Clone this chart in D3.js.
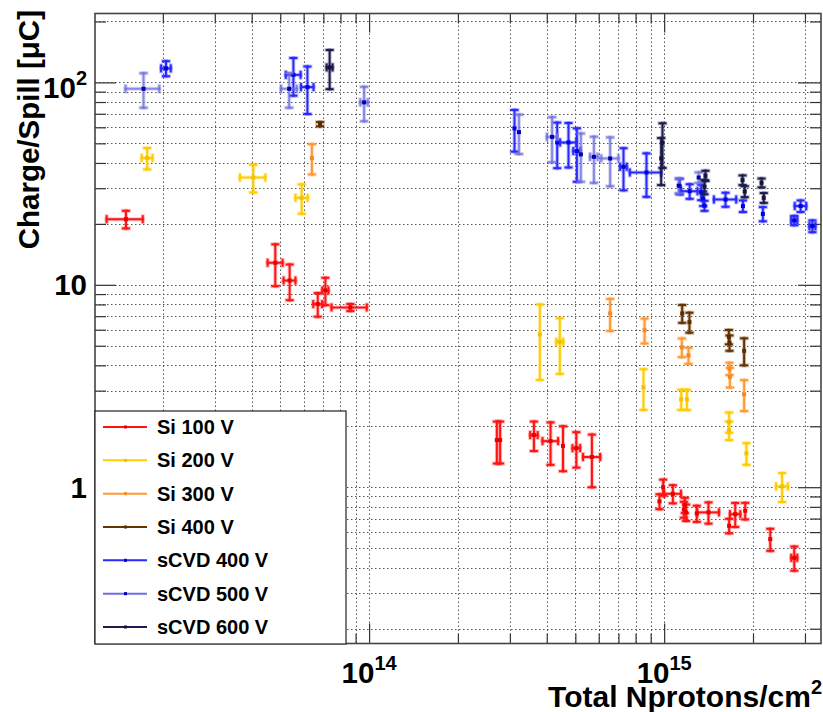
<!DOCTYPE html>
<html>
<head>
<meta charset="utf-8">
<script src="https://cdn.jsdelivr.net/npm/d3@7/dist/d3.min.js"></script>
<style>
  html, body { margin: 0; padding: 0; background: #fff; }
  svg { display: block; }
  text { font-family: "Liberation Sans", Arial, Helvetica, sans-serif; font-weight: bold; fill: #000; }
</style>
</head>
<body>
<svg id="chart" width="823" height="712"></svg>
<script>
// ---- data: fluence (protons/cm^2) vs collected charge per spill (uC) ----
const si100X  = [1.50e13, 4.81e13, 5.38e13, 6.70e13, 7.11e13, 8.64e13, 2.71e14, 2.78e14, 3.62e14, 4.12e14, 4.54e14, 5.04e14, 5.69e14, 9.64e14, 9.92e14, 1.07e15, 1.166e15, 1.175e15, 1.187e15, 1.29e15, 1.413e15, 1.66e15, 1.741e15, 1.882e15, 2.288e15, 2.76e15];
const si100EX = [0.21e13, 0.28e13, 0.25e13, 0.23e13, 0.17e13, 1.18e13, 0, 0, 0.105e14, 0.25e14, 0, 0.15e14, 0.38e14, 0, 0, 0.07e15, 0, 0, 0, 0, 0.12e15, 0, 0.07e15, 0, 0, 0.065e15];
const si100Y  = [21.1, 12.85, 10.5, 8.03, 9.38, 7.73, 1.71, 1.71, 1.81, 1.69, 1.60, 1.56, 1.41, 0.851, 1.0, 0.928, 0.777, 0.816, 0.751, 0.742, 0.751, 0.645, 0.736, 0.765, 0.554, 0.448];
const si100EY = [2.1, 3.0, 2.1, 1.07, 1.45, 0.31, 0.40, 0.40, 0.30, 0.40, 0.40, 0.31, 0.41, 0.072, 0.09, 0.095, 0.07, 0.07, 0.07, 0.068, 0.09, 0.053, 0.10, 0.072, 0.069, 0.061];

const si200X  = [1.77e13, 4.05e13, 5.91e13, 3.79e14, 4.43e14, 8.51e14, 1.142e15, 1.194e15, 1.66e15, 1.66e15, 1.90e15, 2.51e15];
const si200EX = [0.074e13, 0.40e13, 0.28e13, 0, 0.12e14, 0, 0, 0, 0, 0, 0, 0.115e15];
const si200Y  = [42.3, 33.9, 26.9, 5.69, 5.23, 3.12, 2.72, 2.72, 2.10, 1.91, 1.47, 1.01];
const si200EY = [5.1, 5.3, 4.45, 2.3, 1.6, 0.71, 0.31, 0.31, 0.24, 0.2, 0.18, 0.165];

const si300X  = [6.40e13, 6.56e14, 8.58e14, 1.148e15, 1.209e15, 1.665e15, 1.67e15, 1.866e15];
const si300EX = [0, 0, 0, 0, 0, 0, 0, 0];
const si300Y  = [42.3, 7.22, 5.97, 4.91, 4.48, 3.85, 3.50, 2.88];
const si300EY = [7.2, 1.3, 0.84, 0.52, 0.41, 0.27, 0.39, 0.5];

const si400X  = [6.82e13, 1.151e15, 1.218e15, 1.657e15, 1.665e15, 1.866e15];
const si400EX = [0, 0, 0, 0, 0, 0];
const si400Y  = [62.2, 7.22, 6.54, 5.53, 5.17, 4.72];
const si400EY = [1.5, 0.73, 0.74, 0.45, 0.45, 0.72];

const cvd400X  = [2.05e13, 5.54e13, 6.18e13, 3.11e14, 4.34e14, 4.74e14, 5.06e14, 7.28e14, 8.71e14, 1.129e15, 1.22e15, 1.335e15, 1.356e15, 1.37e15, 1.614e15, 1.849e15, 2.16e15, 2.76e15, 2.90e15, 3.18e15];
const cvd400EX = [0.077e13, 0.32e13, 0.30e13, 0, 0, 0.30e14, 0.14e14, 0.19e14, 1.06e14, 0, 0.077e15, 0, 0, 0, 0.14e15, 0, 0, 0.065e15, 0.13e15, 0.075e15];
const cvd400Y  = [117.3, 109, 94.8, 59.3, 50.5, 50.5, 45.8, 38.3, 35.9, 30.7, 29.0, 28.7, 26.7, 24.6, 26.4, 24.5, 22.4, 20.8, 24.5, 19.5];
const cvd400EY = [10, 23, 25, 13.8, 12.8, 12.5, 13.5, 9, 8.7, 2.7, 2.4, 2.5, 2.2, 1.4, 2.1, 1.6, 1.8, 1.1, 1.6, 1.3];

const cvd500X  = [1.72e13, 5.36e13, 9.62e13, 3.22e14, 4.17e14, 5.22e14, 5.78e14, 6.56e14, 1.12e15, 1.309e15];
const cvd500EX = [0.225e13, 0.33e13, 0.28e13, 0, 0.165e14, 0, 0.17e14, 0.44e14, 0, 0];
const cvd500Y  = [93, 93, 79.7, 56.8, 53.8, 44.1, 42.9, 42.1, 30.9, 33.9];
const cvd500EY = [18, 18, 15.4, 12.5, 13.5, 11.8, 11, 11.4, 2.6, 2];

const cvd600X  = [7.35e13, 9.87e14, 9.77e14, 1.38e15, 1.37e15, 1.843e15, 1.875e15, 2.138e15, 2.175e15];
const cvd600EX = [0.17e13, 0, 0, 0, 0, 0, 0, 0, 0];
const cvd600Y  = [118.6, 50.3, 42.1, 34.6, 30.5, 32.9, 28.9, 31.9, 26.9];
const cvd600EY = [26, 12.5, 11, 2, 2.5, 1.8, 1.8, 1.6, 1.5];

const seriesNames = ["Si 100 V", "Si 200 V", "Si 300 V", "Si 400 V", "sCVD 400 V", "sCVD 500 V", "sCVD 600 V"];

// axis ranges and labelled decades
const xDomain = [1.178e13, 3.40e15];
const yDomain = [0.169, 219];
const xMajorTicks = [1e14, 1e15];
const xMajorExponents = ["14", "15"];
const yMajorTicks = [1, 10, 100];
const yMajorBase = ["1", "10", "10"];
const yMajorExponents = ["", "", "2"];
const xTitle = "Total Nprotons/cm";
const xTitleSup = "2";
const yTitle = "Charge/Spill [\u03BCC]";

// ---- styling ----
const lineColors   = ["#ff1414", "#ffcc00", "#ff9933", "#663300", "#2a2aff", "#6f6fe0", "#1c1c50"];
const markerColors = ["#e60000", "#f2c200", "#f28a2a", "#5a2d00", "#0000e0", "#0000b0", "#14143c"];
const tickFont = 29.5, supFont = 20, titleFont = 29.5;

const series = seriesNames.map((name, i) => {
  const xs = [si100X, si200X, si300X, si400X, cvd400X, cvd500X, cvd600X][i];
  const exs = [si100EX, si200EX, si300EX, si400EX, cvd400EX, cvd500EX, cvd600EX][i];
  const ys = [si100Y, si200Y, si300Y, si400Y, cvd400Y, cvd500Y, cvd600Y][i];
  const eys = [si100EY, si200EY, si300EY, si400EY, cvd400EY, cvd500EY, cvd600EY][i];
  return { name, line: lineColors[i], marker: markerColors[i],
           points: xs.map((x, k) => ({ x, ex: exs[k], y: ys[k], ey: eys[k] })) };
});

const frame = { left: 95, right: 821, top: 13.5, bottom: 643.5 };
const svg = d3.select("#chart");
svg.append("rect").attr("width", 823).attr("height", 712).attr("fill", "#fff");

const x = d3.scaleLog().domain(xDomain).range([frame.left, frame.right]);
const y = d3.scaleLog().domain(yDomain).range([frame.bottom, frame.top]);

function decadeTicks(domain) {
  const out = [];
  const lo = Math.floor(Math.log10(domain[0])), hi = Math.ceil(Math.log10(domain[1]));
  for (let e = lo; e <= hi; e++)
    for (let m = 1; m <= 9; m++) {
      const v = m * Math.pow(10, e);
      if (v >= domain[0] && v <= domain[1]) out.push(v);
    }
  return out;
}
const xAll = decadeTicks(xDomain);
const yAll = decadeTicks(yDomain);
const isMajor = v => Math.abs(Math.log10(v) - Math.round(Math.log10(v))) < 1e-9;

// ---- dotted grid ----
const grid = svg.append("g").attr("stroke", "#555").attr("stroke-width", 1).attr("stroke-dasharray", "1.5,2.5");
grid.selectAll("line.gx").data(xAll).join("line")
  .attr("x1", d => Math.round(x(d)) + 0.5).attr("x2", d => Math.round(x(d)) + 0.5)
  .attr("y1", frame.top).attr("y2", frame.bottom);
grid.selectAll("line.gy").data(yAll).join("line")
  .attr("y1", d => Math.round(y(d)) + 0.5).attr("y2", d => Math.round(y(d)) + 0.5)
  .attr("x1", frame.left).attr("x2", frame.right);

// ---- inward ticks on all four sides ----
function tickAxis(axisFn, scale, values, size, transform) {
  const g = svg.append("g").attr("transform", transform)
    .call(axisFn(scale).tickValues(values).tickSize(size).tickFormat(""));
  g.select(".domain").remove();
  g.selectAll(".tick line").attr("stroke", "#333").attr("stroke-width", 1.2);
}
const xMinor = xAll.filter(v => !isMajor(v)), xMaj = xAll.filter(isMajor);
const yMinor = yAll.filter(v => !isMajor(v)), yMaj = yAll.filter(isMajor);
tickAxis(d3.axisRight, y, yMinor, 11, `translate(${frame.left},0)`);
tickAxis(d3.axisRight, y, yMaj, 21, `translate(${frame.left},0)`);
tickAxis(d3.axisLeft, y, yMinor, 11, `translate(${frame.right},0)`);
tickAxis(d3.axisLeft, y, yMaj, 23, `translate(${frame.right},0)`);
tickAxis(d3.axisBottom, x, xMinor, 10, `translate(0,${frame.top})`);
tickAxis(d3.axisBottom, x, xMaj, 19, `translate(0,${frame.top})`);
tickAxis(d3.axisTop, x, xMinor, 10, `translate(0,${frame.bottom})`);
tickAxis(d3.axisTop, x, xMaj, 20, `translate(0,${frame.bottom})`);

// ---- frame ----
svg.append("rect")
  .attr("x", frame.left).attr("y", frame.top)
  .attr("width", frame.right - frame.left).attr("height", frame.bottom - frame.top)
  .attr("fill", "none").attr("stroke", "#444").attr("stroke-width", 1.6);

// ---- error bars and markers ----
const cap = 3;
function drawBars(g, s, width, opacity) {
  s.points.forEach(p => {
    const px = x(p.x), py = y(p.y);
    const segs = [];
    if (p.ex > 0) {
      const x0 = x(p.x - p.ex), x1 = x(p.x + p.ex);
      segs.push([x0, py, x1, py], [x0, py - cap, x0, py + cap], [x1, py - cap, x1, py + cap]);
    }
    if (p.ey > 0) {
      const y0 = y(p.y - p.ey), y1 = y(p.y + p.ey);
      segs.push([px, y0, px, y1], [px - cap, y0, px + cap, y0], [px - cap, y1, px + cap, y1]);
    }
    g.selectAll(null).data(segs).join("line")
      .attr("x1", d => d[0]).attr("y1", d => d[1]).attr("x2", d => d[2]).attr("y2", d => d[3])
      .attr("stroke", s.line).attr("stroke-width", width).attr("stroke-opacity", opacity)
      .attr("stroke-linecap", "square");
  });
}
series.forEach(s => {
  const g = svg.append("g");
  drawBars(g, s, 4, 0.28);
  drawBars(g, s, 2, s.name === "sCVD 500 V" ? 0.75 : 1);
  g.selectAll("rect.m").data(s.points).join("rect")
    .attr("x", d => x(d.x) - 2).attr("y", d => y(d.y) - 2)
    .attr("width", 4).attr("height", 4).attr("fill", s.marker);
});

// ---- axis labels ----
const yl = svg.append("g");
yMajorTicks.forEach((v, i) => {
  const sup = yMajorExponents[i];
  const t = yl.append("text").attr("x", 87).attr("y", y(v) + (sup ? 16 : 10.5))
    .attr("text-anchor", "end").attr("font-size", tickFont).text(yMajorBase[i]);
  if (sup) t.append("tspan").attr("dy", -13).attr("font-size", supFont).text(sup);
});
const xl = svg.append("g");
xMajorTicks.forEach((v, i) => {
  const t = xl.append("text").attr("x", x(v)).attr("y", 683)
    .attr("text-anchor", "middle").attr("font-size", tickFont).text("10");
  t.append("tspan").attr("dy", -13).attr("font-size", supFont).text(xMajorExponents[i]);
});

// ---- axis titles ----
const xt = svg.append("text").attr("x", 822).attr("y", 707)
  .attr("text-anchor", "end").attr("font-size", titleFont + 0.5).text(xTitle);
xt.append("tspan").attr("dy", -13).attr("font-size", supFont).text(xTitleSup);

svg.append("text")
  .attr("transform", "translate(39,10) rotate(-90)")
  .attr("text-anchor", "end").attr("font-size", titleFont).text(yTitle);

// ---- legend ----
const leg = { x0: 95, y0: 411, x1: 346, y1: 644 };
const lg = svg.append("g");
lg.append("rect").attr("x", leg.x0).attr("y", leg.y0)
  .attr("width", leg.x1 - leg.x0).attr("height", leg.y1 - leg.y0)
  .attr("fill", "#fff").attr("stroke", "#222").attr("stroke-width", 1.2);
const rowY = d3.scaleLinear().domain([0, series.length - 1]).range([427, 627]);
series.forEach((s, i) => {
  const cy = rowY(i);
  lg.append("line").attr("x1", 103).attr("x2", 147).attr("y1", cy).attr("y2", cy)
    .attr("stroke", s.line).attr("stroke-width", 2);
  lg.append("rect").attr("x", 124).attr("y", cy - 1.5).attr("width", 3).attr("height", 3).attr("fill", s.marker);
  lg.append("text").attr("x", 157).attr("y", cy + 7).attr("font-size", 20).text(s.name);
});
</script>
</body>
</html>
